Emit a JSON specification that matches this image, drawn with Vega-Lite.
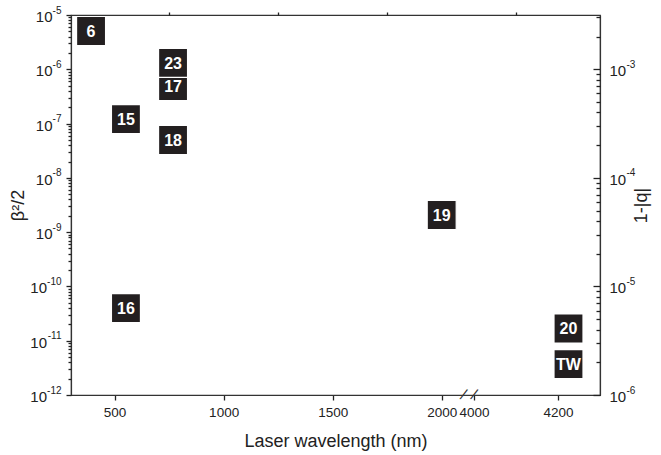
{
  "$schema": "https://vega.github.io/schema/vega-lite/v6.json",
  "width": 529,
  "height": 380,
  "autosize": {"type": "none"},
  "padding": {"left": 71, "top": 15, "right": 61, "bottom": 60},
  "background": "white",
  "config": {
    "view": {"stroke": "#333333", "strokeWidth": 1.2},
    "font": "Liberation Sans",
    "axis": {
      "domainColor": "#333333", "tickColor": "#222222", "labelColor": "#222222", "titleColor": "#222222",
      "labelFont": "Liberation Sans", "titleFont": "Liberation Sans", "titleFontWeight": "normal",
      "grid": false, "domainWidth": 1.2, "tickWidth": 1.3, "labelOverlap": false, "labelFlush": false, "ticks": true
    }
  },
  "data": {
    "values": [
      {"label": "6", "wl": 392, "b": 5.07e-6},
      {"label": "15", "wl": 552, "b": 1.21e-7},
      {"label": "16", "wl": 552, "b": 4.0e-11},
      {"label": "17", "wl": 768, "b": 4.92e-7},
      {"label": "18", "wl": 768, "b": 4.98e-8},
      {"label": "23", "wl": 768, "b": 1.31e-6},
      {"label": "19", "wl": 2000, "b": 2.07e-9},
      {"label": "20", "wl": 4225, "b": 1.68e-11},
      {"label": "TW", "wl": 4225, "b": 3.72e-12}
    ]
  },
  "layer": [
    {
      "encoding": {
        "x": {
          "field": "wl", "type": "quantitative",
          "scale": {"domain": [300, 2100, 4000, 4300], "range": [0, 392.5, 403, 529], "nice": false, "zero": false},
          "axis": {
            "title": "Laser wavelength (nm)", "titleFontSize": 18, "titlePadding": 14,
            "values": [500, 1000, 1500, 2000, 4000, 4200], "format": "d",
            "labelFontSize": 13.5, "labelPadding": 5, "tickSize": 5, "ticks": true
          }
        },
        "y": {
          "field": "b", "type": "quantitative",
          "scale": {"type": "log", "domain": [1e-12, 1e-5], "nice": false},
          "axis": {
            "title": "β²/2", "titleFontSize": 18, "titlePadding": 2, "orient": "left",
            "values": [1e-12, 1e-11, 1e-10, 1e-9, 1e-8, 1e-7, 1e-6, 1e-5],
            "labelExpr": "'10'",
            "labelFontSize": 15, "labelOffset": 1.5,
            "labelPadding": {"condition": {"test": "datum.value < 5e-10", "value": 19.5}, "value": 14},
            "tickSize": 5, "ticks": true
          }
        }
      },
      "layer": [
        {
          "transform": [{"filter": "datum.label != '23'"}],
          "mark": {"type": "point", "shape": "square", "size": 841, "filled": true, "color": "#231f20", "stroke": "white", "strokeWidth": 1.2, "opacity": 1}
        },
        {
          "transform": [{"filter": "datum.label != '23'"}],
          "mark": {"type": "text", "font": "Liberation Sans", "fontWeight": "bold", "fontSize": 16, "color": "white", "baseline": "middle", "align": "center", "dy": 1},
          "encoding": {"text": {"field": "label"}}
        },
        {
          "transform": [{"filter": "datum.label == '23'"}],
          "mark": {"type": "point", "shape": "square", "size": 841, "filled": true, "color": "#231f20", "stroke": "white", "strokeWidth": 1.2, "opacity": 1}
        },
        {
          "transform": [{"filter": "datum.label == '23'"}],
          "mark": {"type": "text", "font": "Liberation Sans", "fontWeight": "bold", "fontSize": 16, "color": "white", "baseline": "middle", "align": "center", "dy": 1},
          "encoding": {"text": {"field": "label"}}
        }
      ]
    },
    {
      "mark": {"type": "point", "opacity": 0},
      "encoding": {
        "x": {
          "datum": 500, "type": "quantitative",
          "scale": {"domain": [300, 2100, 4000, 4300], "range": [0, 392.5, 403, 529], "nice": false, "zero": false},
          "axis": {"title": null, "domain": false, "labels": false, "values": [750, 1250, 1750, 4100], "tickSize": 3, "ticks": true}
        }
      }
    },
    {
      "mark": {"type": "point", "opacity": 0},
      "encoding": {
        "y": {
          "datum": 1e-5, "type": "quantitative",
          "scale": {"type": "log", "domain": [1e-12, 1e-5], "nice": false},
          "axis": {
            "title": null, "orient": "left", "domain": false, "labels": false, "tickSize": 3, "ticks": true,
            "values": [2e-12, 3e-12, 4e-12, 5e-12, 6e-12, 7e-12, 8e-12, 9e-12,
                       2e-11, 3e-11, 4e-11, 5e-11, 6e-11, 7e-11, 8e-11, 9e-11,
                       2e-10, 3e-10, 4e-10, 5e-10, 6e-10, 7e-10, 8e-10, 9e-10,
                       2e-9, 3e-9, 4e-9, 5e-9, 6e-9, 7e-9, 8e-9, 9e-9,
                       2e-8, 3e-8, 4e-8, 5e-8, 6e-8, 7e-8, 8e-8, 9e-8,
                       2e-7, 3e-7, 4e-7, 5e-7, 6e-7, 7e-7, 8e-7, 9e-7,
                       2e-6, 3e-6, 4e-6, 5e-6, 6e-6, 7e-6, 8e-6, 9e-6]
          }
        }
      }
    },
    {
      "mark": {"type": "point", "opacity": 0},
      "encoding": {
        "y": {
          "datum": 1e-5, "type": "quantitative",
          "scale": {"type": "log", "domain": [1e-12, 1e-5], "nice": false},
          "axis": {
            "title": null, "orient": "left", "domain": false,
            "values": [1e-12, 1e-11, 1e-10, 1e-9, 1e-8, 1e-7, 1e-6, 1e-5],
            "labelExpr": "'' + round(log(datum.value)/LN10)",
            "labelFontSize": 10, "labelOffset": -5, "labelPadding": 5,
            "tickSize": 5, "tickOpacity": 0
          }
        }
      }
    },
    {
      "mark": {"type": "point", "opacity": 0},
      "encoding": {
        "y": {
          "datum": 1e-5, "type": "quantitative",
          "scale": {"type": "log", "domain": [1e-6, 0.0031623], "nice": false},
          "axis": {
            "title": "1-|q|", "titleFontSize": 18, "titleAngle": 270, "titlePadding": 25, "orient": "right",
            "values": [1e-6, 1e-5, 1e-4, 1e-3],
            "labelExpr": "'10'",
            "labelFontSize": 15, "labelPadding": 16, "labelOffset": 1.5,
            "tickSize": -7, "ticks": true
          }
        }
      }
    },
    {
      "mark": {"type": "point", "opacity": 0},
      "encoding": {
        "y": {
          "datum": 1e-5, "type": "quantitative",
          "scale": {"type": "log", "domain": [1e-6, 0.0031623], "nice": false},
          "axis": {
            "title": null, "orient": "right", "domain": false, "labels": false, "tickSize": -4, "ticks": true,
            "values": [2e-6, 3e-6, 4e-6, 5e-6, 6e-6, 7e-6, 8e-6, 9e-6,
                       2e-5, 3e-5, 4e-5, 5e-5, 6e-5, 7e-5, 8e-5, 9e-5,
                       2e-4, 3e-4, 4e-4, 5e-4, 6e-4, 7e-4, 8e-4, 9e-4,
                       2e-3, 3e-3]
          }
        }
      }
    },
    {
      "mark": {"type": "point", "opacity": 0},
      "encoding": {
        "y": {
          "datum": 1e-5, "type": "quantitative",
          "scale": {"type": "log", "domain": [1e-6, 0.0031623], "nice": false},
          "axis": {
            "title": null, "orient": "right", "domain": false,
            "values": [1e-6, 1e-5, 1e-4, 1e-3],
            "labelExpr": "'' + round(log(datum.value)/LN10)",
            "labelFontSize": 10, "labelOffset": -5, "labelPadding": 21,
            "tickSize": 5, "tickOpacity": 0
          }
        }
      }
    },
    {
      "data": {"values": [{"bx": 2100}, {"bx": 4000}]},
      "mark": {"type": "text", "font": "Liberation Sans", "fontSize": 16, "angle": 22, "color": "#333333", "baseline": "middle", "align": "center"},
      "encoding": {
        "text": {"value": "/"},
        "x": {
          "field": "bx", "type": "quantitative",
          "scale": {"domain": [300, 2100, 4000, 4300], "range": [0, 392.5, 403, 529], "nice": false, "zero": false},
          "axis": null
        },
        "y": {
          "datum": 1e-12, "type": "quantitative",
          "scale": {"type": "log", "domain": [1e-12, 1e-5], "nice": false},
          "axis": null
        }
      }
    }
  ],
  "resolve": {"scale": {"y": "independent"}, "axis": {"x": "independent", "y": "independent"}}
}
